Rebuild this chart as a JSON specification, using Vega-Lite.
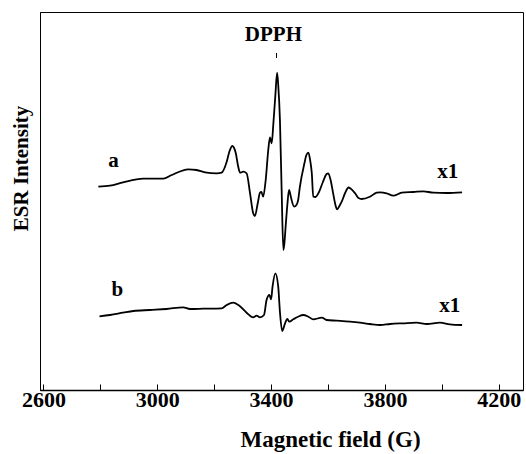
{
  "$schema": "https://vega.github.io/schema/vega-lite/v6.json",
  "width": 483,
  "height": 378,
  "autosize": {"type": "none"},
  "padding": {"left": 40, "top": 12, "right": 3, "bottom": 64},
  "background": "white",
  "config": {
    "view": {"stroke": "black", "strokeWidth": 1},
    "font": "Liberation Serif"
  },
  "datasets": {
    "spectra": [
      {"sample": "a", "field": 2793, "intensity": 203.3},
      {"sample": "a", "field": 2834, "intensity": 204.3},
      {"sample": "a", "field": 2880, "intensity": 207.7},
      {"sample": "a", "field": 2951, "intensity": 211.3},
      {"sample": "a", "field": 3021, "intensity": 211.3},
      {"sample": "a", "field": 3051, "intensity": 215},
      {"sample": "a", "field": 3109, "intensity": 220.7},
      {"sample": "a", "field": 3138, "intensity": 220},
      {"sample": "a", "field": 3168, "intensity": 217.7},
      {"sample": "a", "field": 3209, "intensity": 216.7},
      {"sample": "a", "field": 3226, "intensity": 217.3},
      {"sample": "a", "field": 3244, "intensity": 228.3},
      {"sample": "a", "field": 3254, "intensity": 239},
      {"sample": "a", "field": 3264, "intensity": 244},
      {"sample": "a", "field": 3270, "intensity": 242},
      {"sample": "a", "field": 3276, "intensity": 236.7},
      {"sample": "a", "field": 3284, "intensity": 224},
      {"sample": "a", "field": 3291, "intensity": 217.3},
      {"sample": "a", "field": 3302, "intensity": 218.3},
      {"sample": "a", "field": 3314, "intensity": 216.7},
      {"sample": "a", "field": 3326, "intensity": 196.7},
      {"sample": "a", "field": 3337, "intensity": 176.7},
      {"sample": "a", "field": 3343, "intensity": 174},
      {"sample": "a", "field": 3353, "intensity": 186.7},
      {"sample": "a", "field": 3361, "intensity": 197.3},
      {"sample": "a", "field": 3366, "intensity": 198},
      {"sample": "a", "field": 3372, "intensity": 193.3},
      {"sample": "a", "field": 3381, "intensity": 210},
      {"sample": "a", "field": 3390, "intensity": 240},
      {"sample": "a", "field": 3396, "intensity": 252.7},
      {"sample": "a", "field": 3402, "intensity": 246.7},
      {"sample": "a", "field": 3408, "intensity": 266.7},
      {"sample": "a", "field": 3415, "intensity": 295},
      {"sample": "a", "field": 3421, "intensity": 317.3},
      {"sample": "a", "field": 3425, "intensity": 305},
      {"sample": "a", "field": 3431, "intensity": 270},
      {"sample": "a", "field": 3437, "intensity": 200},
      {"sample": "a", "field": 3443, "intensity": 140},
      {"sample": "a", "field": 3446, "intensity": 145},
      {"sample": "a", "field": 3451, "intensity": 163.3},
      {"sample": "a", "field": 3457, "intensity": 185},
      {"sample": "a", "field": 3463, "intensity": 200},
      {"sample": "a", "field": 3468, "intensity": 195},
      {"sample": "a", "field": 3472, "intensity": 190},
      {"sample": "a", "field": 3481, "intensity": 183.3},
      {"sample": "a", "field": 3489, "intensity": 185},
      {"sample": "a", "field": 3495, "intensity": 190},
      {"sample": "a", "field": 3501, "intensity": 203},
      {"sample": "a", "field": 3517, "intensity": 226.7},
      {"sample": "a", "field": 3524, "intensity": 235},
      {"sample": "a", "field": 3531, "intensity": 237.3},
      {"sample": "a", "field": 3537, "intensity": 230},
      {"sample": "a", "field": 3543, "intensity": 216.7},
      {"sample": "a", "field": 3548, "intensity": 193.3},
      {"sample": "a", "field": 3556, "intensity": 193},
      {"sample": "a", "field": 3566, "intensity": 196.7},
      {"sample": "a", "field": 3582, "intensity": 208},
      {"sample": "a", "field": 3595, "intensity": 216},
      {"sample": "a", "field": 3601, "intensity": 216.7},
      {"sample": "a", "field": 3609, "intensity": 210},
      {"sample": "a", "field": 3618, "intensity": 196.7},
      {"sample": "a", "field": 3626, "intensity": 185},
      {"sample": "a", "field": 3632, "intensity": 180.7},
      {"sample": "a", "field": 3640, "intensity": 184},
      {"sample": "a", "field": 3648, "intensity": 188.3},
      {"sample": "a", "field": 3660, "intensity": 197},
      {"sample": "a", "field": 3672, "intensity": 202.5},
      {"sample": "a", "field": 3679, "intensity": 201.5},
      {"sample": "a", "field": 3695, "intensity": 196.7},
      {"sample": "a", "field": 3707, "intensity": 192},
      {"sample": "a", "field": 3718, "intensity": 191},
      {"sample": "a", "field": 3747, "intensity": 193.3},
      {"sample": "a", "field": 3771, "intensity": 197.3},
      {"sample": "a", "field": 3783, "intensity": 197.7},
      {"sample": "a", "field": 3806, "intensity": 196.7},
      {"sample": "a", "field": 3829, "intensity": 194.3},
      {"sample": "a", "field": 3859, "intensity": 197.3},
      {"sample": "a", "field": 3900, "intensity": 198},
      {"sample": "a", "field": 3935, "intensity": 198.7},
      {"sample": "a", "field": 3970, "intensity": 197.3},
      {"sample": "a", "field": 4017, "intensity": 197},
      {"sample": "a", "field": 4071, "intensity": 197.7},
      {"sample": "b", "field": 2797, "intensity": 73.7},
      {"sample": "b", "field": 2834, "intensity": 75},
      {"sample": "b", "field": 2880, "intensity": 77.3},
      {"sample": "b", "field": 2916, "intensity": 79},
      {"sample": "b", "field": 2974, "intensity": 80},
      {"sample": "b", "field": 3033, "intensity": 81},
      {"sample": "b", "field": 3091, "intensity": 82.7},
      {"sample": "b", "field": 3115, "intensity": 81},
      {"sample": "b", "field": 3162, "intensity": 81.3},
      {"sample": "b", "field": 3226, "intensity": 81.7},
      {"sample": "b", "field": 3244, "intensity": 85},
      {"sample": "b", "field": 3267, "intensity": 87.3},
      {"sample": "b", "field": 3285, "intensity": 85},
      {"sample": "b", "field": 3314, "intensity": 77.3},
      {"sample": "b", "field": 3337, "intensity": 72.7},
      {"sample": "b", "field": 3349, "intensity": 74.3},
      {"sample": "b", "field": 3361, "intensity": 72.7},
      {"sample": "b", "field": 3375, "intensity": 75},
      {"sample": "b", "field": 3384, "intensity": 90},
      {"sample": "b", "field": 3394, "intensity": 95},
      {"sample": "b", "field": 3400, "intensity": 90.7},
      {"sample": "b", "field": 3405, "intensity": 103.3},
      {"sample": "b", "field": 3415, "intensity": 116.7},
      {"sample": "b", "field": 3425, "intensity": 103.3},
      {"sample": "b", "field": 3431, "intensity": 78},
      {"sample": "b", "field": 3439, "intensity": 59},
      {"sample": "b", "field": 3449, "intensity": 66.7},
      {"sample": "b", "field": 3457, "intensity": 71},
      {"sample": "b", "field": 3464, "intensity": 68.3},
      {"sample": "b", "field": 3478, "intensity": 70.7},
      {"sample": "b", "field": 3495, "intensity": 73.3},
      {"sample": "b", "field": 3513, "intensity": 75},
      {"sample": "b", "field": 3531, "intensity": 73.3},
      {"sample": "b", "field": 3548, "intensity": 70.7},
      {"sample": "b", "field": 3578, "intensity": 72.3},
      {"sample": "b", "field": 3595, "intensity": 70},
      {"sample": "b", "field": 3630, "intensity": 69.3},
      {"sample": "b", "field": 3677, "intensity": 68.3},
      {"sample": "b", "field": 3712, "intensity": 67.3},
      {"sample": "b", "field": 3747, "intensity": 66},
      {"sample": "b", "field": 3783, "intensity": 65},
      {"sample": "b", "field": 3818, "intensity": 66},
      {"sample": "b", "field": 3864, "intensity": 66.7},
      {"sample": "b", "field": 3911, "intensity": 67.3},
      {"sample": "b", "field": 3947, "intensity": 66},
      {"sample": "b", "field": 3993, "intensity": 67.3},
      {"sample": "b", "field": 4028, "intensity": 65.7},
      {"sample": "b", "field": 4071, "intensity": 65}
    ],
    "labels": [
      {"text": "DPPH", "field": 3408, "intensity": 349},
      {"text": "a", "field": 2846, "intensity": 223},
      {"text": "b", "field": 2860, "intensity": 94},
      {"text": "x1", "field": 4021, "intensity": 212},
      {"text": "x1", "field": 4028, "intensity": 78.5}
    ],
    "marker": [
      {"field": 3419, "intensity": 332, "intensity2": 337}
    ]
  },
  "layer": [
    {
      "data": {"name": "spectra"},
      "mark": {"type": "line", "interpolate": "monotone", "color": "black", "strokeWidth": 1.8},
      "encoding": {
        "x": {
          "field": "field",
          "type": "quantitative",
          "scale": {"domain": [2588, 4285], "nice": false, "zero": false},
          "axis": {
            "title": "Magnetic field (G)",
            "values": [2600, 2800, 3000, 3200, 3400, 3600, 3800, 4000, 4200],
            "format": "d",
            "labelExpr": "(datum.value - 2600) % 400 == 0 ? datum.label : ''",
            "grid": false,
            "tickSize": -6,
            "tickColor": "black",
            "tickWidth": 1,
            "domainColor": "black",
            "domainWidth": 1.5,
            "labelFont": "Liberation Serif",
            "labelFontWeight": "bold",
            "labelFontSize": 22,
            "labelColor": "black",
            "labelPadding": 5,
            "labelFlush": false,
            "labelOverlap": false,
            "titleFont": "Liberation Serif",
            "titleFontWeight": "bold",
            "titleFontSize": 23,
            "titleColor": "black",
            "titleX": 290,
            "titleY": 56,
            "titleAlign": "center",
            "titleBaseline": "alphabetic"
          }
        },
        "y": {
          "field": "intensity",
          "type": "quantitative",
          "scale": {"domain": [0, 378], "nice": false, "zero": false},
          "axis": {
            "title": "ESR Intensity",
            "ticks": false,
            "labels": false,
            "grid": false,
            "domainColor": "black",
            "domainWidth": 1,
            "titleFont": "Liberation Serif",
            "titleFontWeight": "bold",
            "titleFontSize": 21,
            "titleColor": "black",
            "titleAngle": -90,
            "titleX": -13,
            "titleY": 156,
            "titleAlign": "center",
            "titleBaseline": "alphabetic"
          }
        },
        "detail": {"field": "sample"}
      }
    },
    {
      "data": {"name": "marker"},
      "mark": {"type": "rule", "color": "black", "strokeWidth": 1},
      "encoding": {
        "x": {"field": "field", "type": "quantitative"},
        "y": {"field": "intensity", "type": "quantitative"},
        "y2": {"field": "intensity2"}
      }
    },
    {
      "data": {"name": "labels"},
      "mark": {"type": "text", "font": "Liberation Serif", "fontWeight": "bold", "fontSize": 21, "color": "black", "align": "center", "baseline": "alphabetic"},
      "encoding": {
        "x": {"field": "field", "type": "quantitative"},
        "y": {"field": "intensity", "type": "quantitative"},
        "text": {"field": "text"}
      }
    }
  ]
}
